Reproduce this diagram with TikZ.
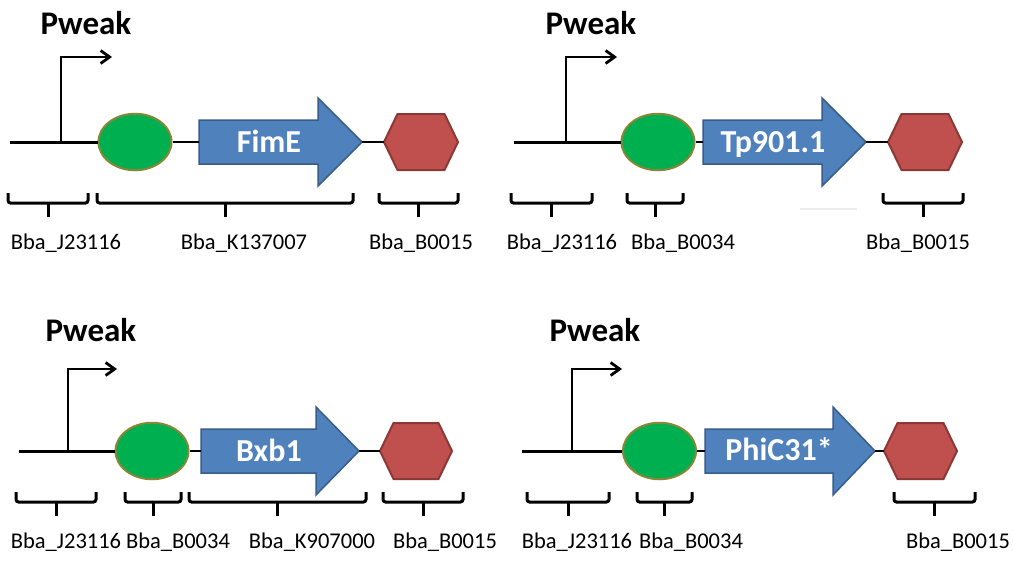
\documentclass[tikz,border=0pt]{standalone}
\usepackage{fontspec}
\setmainfont{Carlito}
\usetikzlibrary{shapes.geometric,arrows.meta}
\definecolor{rbsgreen}{HTML}{00B050}
\definecolor{rbsedge}{RGB}{135,135,55}
\definecolor{cdsblue}{HTML}{4F81BD}
\definecolor{cdsedge}{HTML}{385D8A}
\definecolor{termred}{HTML}{C0504D}
\definecolor{termedge}{HTML}{8C3836}
\newcommand\genearrow[5]{%
  \draw[genearr] (#2,#5-22) -- (#3,#5-22) -- (#3,#5-44) -- (#4,#5) -- (#3,#5+44) -- (#3,#5+22) -- (#2,#5+22) -- cycle;
  \coordinate (#1w) at (#2,#5);
  \coordinate (#1e) at (#4,#5);}
\newcommand\hexa[4]{%
  \draw[term] (#2,#4) -- (#2+13.5,#4-28) -- (#3-13.5,#4-28) -- (#3,#4) -- (#3-13.5,#4+28) -- (#2+13.5,#4+28) -- cycle;
  \coordinate (#1w) at (#2,#4);
  \coordinate (#1e) at (#3,#4);}
\newcommand\brk[3]{%
  \draw[brkline] (#1,#3) -- (#1,#3+10) -- (#2,#3+10) -- (#2,#3);
  \draw[brkline] ({(#1+#2)/2},#3+10) -- ({(#1+#2)/2},#3+24);}
\begin{document}
\begin{tikzpicture}[x=1pt,y=-1pt,
  dna/.style={line width=3pt},
  link/.style={line width=2.2pt},
  prom/.style={line width=2.8pt,-{Straight Barb[length=9pt,width=13pt]}},
  rbs/.style={ellipse,draw=rbsedge,line width=2pt,fill=rbsgreen,minimum width=73pt,minimum height=56.5pt,inner sep=0pt},
  genearr/.style={draw=cdsedge,line width=1.5pt,fill=cdsblue,line join=miter},
  term/.style={draw=termedge,line width=2pt,fill=termred},
  brkline/.style={line width=3pt,rounded corners=2.5pt},
  partlabel/.style={anchor=base,inner sep=0pt,font=\fontsize{22.5}{22.5}\selectfont},
  ptitle/.style={anchor=base,inner sep=0pt,font=\bfseries\fontsize{33}{33}\selectfont},
  gname/.style={anchor=base,inner sep=0pt,text=white,font=\bfseries\fontsize{32}{32}\selectfont}]
\useasboundingbox[fill=white] (0,0) rectangle (1013,566);

% ---------- Panel 1 ----------
\node[ptitle] (t1) at (86,34) {Pweak};
\node[rbs] (e1) at (135,142) {};
\genearrow{g1}{199}{318}{362}{142}
\node[gname] (n1) at (269,152) {FimE};
\hexa{h1}{384}{458}{142}
\coordinate (s1) at (10,142);
\coordinate (p1) at (61,142);
\coordinate (a1) at (112,57);
\draw[dna] (s1) -- (e1.west);
\draw[prom] (p1) |- (a1);
\draw[link] (e1.east) -- (g1w);
\draw[link] (g1e) -- (h1w);
\brk{8}{88}{193}
\brk{97}{353}{193}
\brk{379}{458}{193}
\node[partlabel] (l11) at (66,249) {Bba\_J23116};
\node[partlabel] (l12) at (244,249) {Bba\_K137007};
\node[partlabel] (l13) at (421,249) {Bba\_B0015};

% ---------- Panel 2 ----------
\node[ptitle] (t2) at (591,34) {Pweak};
\node[rbs] (e2) at (658,142) {};
\genearrow{g2}{703}{822}{866}{142}
\node[gname] (n2) at (773,152) {Tp901.1};
\hexa{h2}{888}{962}{142}
\coordinate (s2) at (514,142);
\coordinate (p2) at (566,142);
\coordinate (a2) at (617,57);
\draw[dna] (s2) -- (e2.west);
\draw[prom] (p2) |- (a2);
\draw[link] (e2.east) -- (g2w);
\draw[link] (g2e) -- (h2w);
\brk{511}{592}{193}
\brk{627}{683}{193}
\brk{883}{963}{193}
\draw[black!7,line width=1.5pt] (800,209) -- (857,209);
\node[partlabel] (l21) at (562,249) {Bba\_J23116};
\node[partlabel] (l22) at (683,249) {Bba\_B0034};
\node[partlabel] (l23) at (918,249) {Bba\_B0015};

% ---------- Panel 3 ----------
\node[ptitle] (t3) at (91,341) {Pweak};
\node[rbs] (e3) at (152,451) {};
\genearrow{g3}{201}{316}{359}{451}
\node[gname] (n3) at (269,461) {Bxb1};
\hexa{h3}{380}{452}{451}
\coordinate (s3) at (19,451);
\coordinate (p3) at (68,451);
\coordinate (a3) at (117,369);
\draw[dna] (s3) -- (e3.west);
\draw[prom] (p3) |- (a3);
\draw[link] (e3.east) -- (g3w);
\draw[link] (g3e) -- (h3w);
\brk{16}{96}{492}
\brk{125}{181}{492}
\brk{189}{366}{492}
\brk{383}{463}{492}
\node[partlabel] (l31) at (66,548) {Bba\_J23116};
\node[partlabel] (l32) at (178,548) {Bba\_B0034};
\node[partlabel] (l33) at (312,548) {Bba\_K907000};
\node[partlabel] (l34) at (445,548) {Bba\_B0015};

% ---------- Panel 4 ----------
\node[ptitle] (t4) at (595,341) {Pweak};
\node[rbs] (e4) at (659.5,451) {};
\genearrow{g4}{705}{833}{875}{451}
\node[gname] (n4) at (779,460) {PhiC31*};
\hexa{h4}{884}{957}{451}
\coordinate (s4) at (522,451);
\coordinate (p4) at (572,451);
\coordinate (a4) at (622,369);
\draw[dna] (s4) -- (e4.west);
\draw[prom] (p4) |- (a4);
\draw[link] (e4.east) -- (g4w);
\draw[link] (g4e) -- (h4w);
\brk{527}{609}{492}
\brk{637}{692}{492}
\brk{894}{975}{492}
\node[partlabel] (l41) at (577,548) {Bba\_J23116};
\node[partlabel] (l42) at (691,548) {Bba\_B0034};
\node[partlabel] (l43) at (958,548) {Bba\_B0015};
\end{tikzpicture}
\end{document}
